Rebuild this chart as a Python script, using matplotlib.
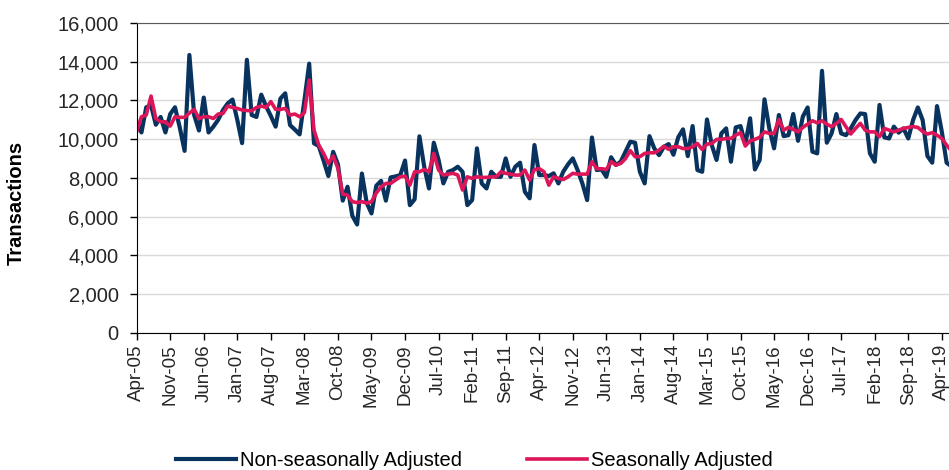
import numpy as np
import pandas as pd
import matplotlib
matplotlib.use("Agg")
import matplotlib.pyplot as plt
from matplotlib.ticker import FuncFormatter

plt.rcParams['font.family'] = ['Liberation Sans', 'DejaVu Sans']

# monthly series, Apr-05 onwards
months = pd.date_range("2005-04-01", periods=171, freq="MS")

non_seasonal = [
    10900, 10350, 11650, 11750, 10750, 11150, 10350, 11300, 11650, 10600,
    9400, 14350, 11250, 10450, 12150, 10350, 10650, 11000, 11500, 11850,
    12050, 11000, 9800, 14100, 11250, 11150, 12300, 11700, 11200, 10650,
    12100, 12370, 10730, 10500, 10250, 12000, 13900, 9790, 9650, 8900,
    8100, 9350, 8700, 6830, 7550, 6050, 5600, 8230, 6720, 6170,
    7600, 7850, 6830, 8030, 8080, 8150, 8900, 6600, 6900, 10150,
    8580, 7460, 9820, 8930, 7720, 8320, 8410, 8580, 8320, 6600,
    6860, 9530, 7720, 7460, 8320, 8060, 8060, 9010, 8060, 8580,
    8790, 7290, 6950, 9700, 8150, 8150, 8100, 8240, 7720, 8320,
    8700, 9010, 8410, 7720, 6860, 10090, 8410, 8440, 8060, 9070,
    8670, 8840, 9360, 9870, 9820, 8320, 7720, 10160, 9530, 9180,
    9610, 9750, 9200, 10100, 10510, 9130, 10680, 8410, 8320, 11020,
    9700, 8930, 10300, 10560, 8840, 10610, 10680, 9750, 11080, 8440,
    8930, 12060, 10560, 9530, 11250, 10160, 10210, 11300, 9920, 11170,
    11640, 9360, 9270, 13530, 9820, 10300, 11300, 10300, 10210, 10560,
    10990, 11330, 11300, 9270, 8840, 11770, 10100, 10040, 10650, 10340,
    10560, 10040, 10990, 11640, 10990, 9130, 8790, 11710, 10390, 8790,
    8600,
]

seasonal = [
    10390, 11160, 11250, 12230, 11070, 10900, 10900, 10680, 11160, 11130,
    11130, 11350, 11540, 11070, 11160, 11160, 11070, 11300, 11330, 11710,
    11640, 11590, 11510, 11480, 11470, 11640, 11710, 11640, 11940, 11540,
    11540, 11590, 11250, 11300, 11160, 11370, 13050, 10470, 9700, 9270,
    8750, 9130, 8500, 7170, 7120, 6780, 6730, 6780, 6700, 6780,
    7220, 7540, 7720, 7720, 7890, 8060, 8100, 7630, 8320, 8320,
    8440, 8320, 9270, 8410, 8150, 8200, 8240, 8150, 7380, 8060,
    7980, 8060, 8030, 8030, 8060, 8060, 8320, 8240, 8200, 8150,
    8150, 8410, 7890, 8440, 8480, 8320, 7630, 8060, 7980, 7920,
    8060, 8240, 8200, 8200, 8200, 8840, 8480, 8480, 8440, 8840,
    8670, 8750, 9000, 9410, 9100, 9100, 9270, 9300, 9300, 9440,
    9640, 9480, 9610, 9610, 9520, 9520, 9610, 9780, 9470, 9750,
    9780, 9990, 9990, 10040, 10040, 10210, 10340, 9650, 9920, 9990,
    10100, 10380, 10300, 10300, 11020, 10470, 10610, 10510, 10380, 10610,
    10780, 10950, 10850, 10950, 10780, 10650, 10820, 11020, 10650, 10270,
    10560, 10820, 10470, 10380, 10380, 10130, 10560, 10470, 10380, 10470,
    10560, 10610, 10650, 10610, 10400, 10270, 10340, 10210, 10040, 9700,
    9400,
]

x = np.arange(len(months))
tick_pos = x[::7]
tick_labels = [d.strftime("%b-%y") for d in months[::7]]

fig = plt.figure(figsize=(9.49, 4.70), dpi=100)
ax = fig.add_axes([0.144, 0.2915, 0.856, 0.6596])

ax.yaxis.grid(True, color='#d9d9d9', linewidth=1.0)
ax.set_axisbelow(True)

ax.plot(x, non_seasonal, color='#08335e', linewidth=3.0, label='Non-seasonally Adjusted',
        solid_joinstyle='round')
ax.plot(x, seasonal, color='#dd1559', linewidth=2.6, label='Seasonally Adjusted',
        solid_joinstyle='round')

ax.set_xlim(0, 169.5)
ax.set_ylim(0, 16000)
ax.set_yticks(np.arange(0, 16001, 2000))
ax.yaxis.set_major_formatter(FuncFormatter(lambda v, p: f"{int(v):,}"))
ax.set_xticks(tick_pos)
ax.set_xticklabels(tick_labels, rotation=90)

ax.tick_params(axis='both', direction='out', length=5, width=1, colors='#000000',
               labelcolor='#262626', labelsize=13.5)
ax.tick_params(axis='y', labelsize=14.5, pad=8)
ax.tick_params(axis='x', pad=3)

ax.spines['right'].set_visible(False)
ax.spines['top'].set_color('#595959')
ax.spines['left'].set_color('#000000')
ax.spines['bottom'].set_color('#000000')

ax.set_ylabel("Transactions", fontsize=14.5, fontweight='bold', color='#000000')
ax.yaxis.set_label_coords(-0.137, 0.42)

fig.legend(loc='center', bbox_to_anchor=(0.5, 0.02), ncol=2, frameon=False,
           fontsize=14.5, handlelength=3.0, handletextpad=0.2, columnspacing=3.2)

fig.savefig("out.png", dpi=100)
